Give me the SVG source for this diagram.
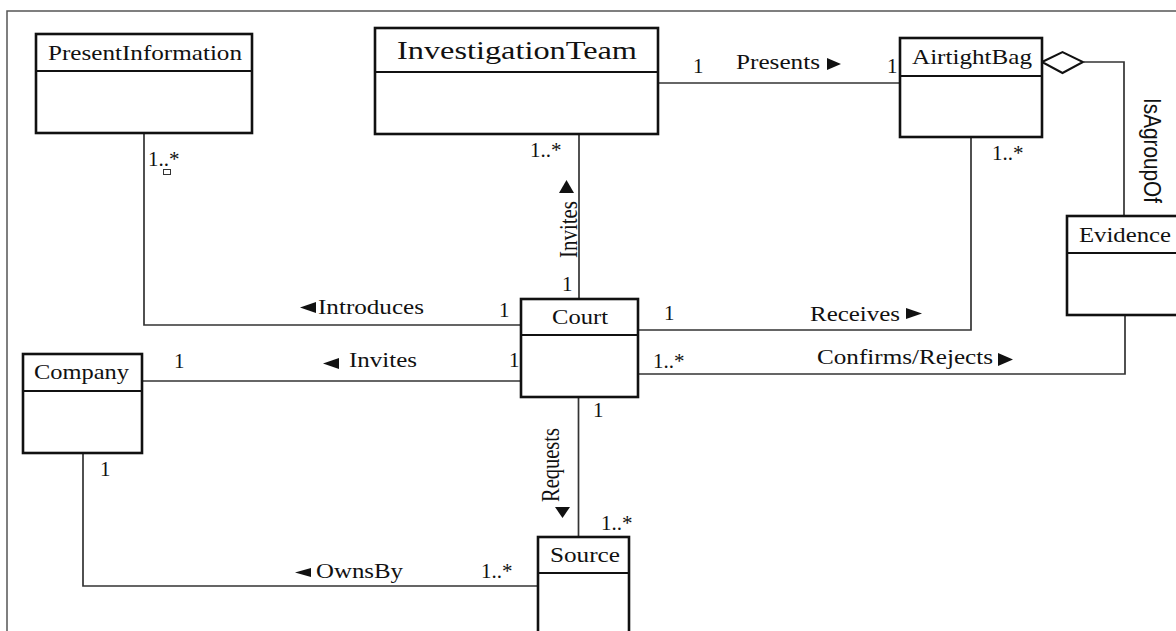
<svg xmlns="http://www.w3.org/2000/svg" width="1176" height="631" viewBox="0 0 1176 631">
  <style>
    .box { fill: #ffffff; stroke: #111111; stroke-width: 2.6; }
    .div { stroke: #111111; stroke-width: 2; }
    .conn { fill: none; stroke: #333333; stroke-width: 1.7; }
    .frame { fill: none; stroke: #555555; stroke-width: 1.5; }
    .name { font-family: "Liberation Serif", "Times New Roman", serif; font-size: 22px; fill: #111111; }
    .lbl { font-family: "Liberation Serif", "Times New Roman", serif; font-size: 21px; fill: #111111; }
    .sans { font-family: "Liberation Sans", Arial, sans-serif; font-size: 20px; fill: #111111; }
    .tri { fill: #111111; }
  </style>

  <rect width="1176" height="631" fill="#ffffff"/>
  <path class="frame" d="M7,631 V11 H1176"/>

  <!-- associations -->
  <g id="connectors">
    <path class="conn" d="M144,133 V325 H521"/>
    <path class="conn" d="M579,134 V299"/>
    <path class="conn" d="M658,83 H900"/>
    <path class="conn" d="M638,330 H971 V137"/>
    <polygon points="1042,62 1062.5,52 1083,62 1062.5,73" fill="#ffffff" stroke="#111111" stroke-width="2"/>
    <path class="conn" d="M1083,62 H1124 V216"/>
    <path class="conn" d="M638,374 H1125 V315"/>
    <path class="conn" d="M142,381 H521"/>
    <path class="conn" d="M578.5,397 V537"/>
    <path class="conn" d="M83,453 V586 H538"/>

    <!-- association names and direction marks -->
    <text class="lbl" x="736" y="69" textLength="84" lengthAdjust="spacingAndGlyphs">Presents</text>
    <polygon class="tri" points="827,58 841,64 827,70"/>
    <text class="lbl" x="810" y="321" textLength="90" lengthAdjust="spacingAndGlyphs">Receives</text>
    <polygon class="tri" points="906,308 922,313.5 906,319"/>
    <text class="lbl" x="817" y="364" textLength="176" lengthAdjust="spacingAndGlyphs">Confirms/Rejects</text>
    <polygon class="tri" points="998,353 1013,359.5 998,366"/>
    <text class="lbl" x="318" y="314" textLength="106" lengthAdjust="spacingAndGlyphs">Introduces</text>
    <polygon class="tri" points="316,302 300,307.5 316,313"/>
    <text class="lbl" x="349" y="367" textLength="68" lengthAdjust="spacingAndGlyphs">Invites</text>
    <polygon class="tri" points="339,358 323,363.5 339,369"/>
    <text class="lbl" x="316" y="578" textLength="87" lengthAdjust="spacingAndGlyphs">OwnsBy</text>
    <polygon class="tri" points="311,568 295,572.5 311,577"/>
    <text class="lbl" transform="translate(577,258) scale(1.2,1) rotate(-90)" x="0" y="0" textLength="57" lengthAdjust="spacingAndGlyphs">Invites</text>
    <polygon class="tri" points="559,193 566.5,180 574,193"/>
    <text class="lbl" transform="translate(559,502) scale(1.2,1) rotate(-90)" x="0" y="0" textLength="74" lengthAdjust="spacingAndGlyphs">Requests</text>
    <polygon class="tri" points="555,507 570,507 562.5,518"/>
    <text class="sans" transform="translate(1144,98) scale(1.15,1) rotate(90)" x="0" y="0" textLength="105" lengthAdjust="spacingAndGlyphs">IsAgroupOf</text>

    <!-- multiplicities -->
    <text class="lbl" x="148" y="166">1..*</text>
    <rect x="163.5" y="169.5" width="7" height="5" fill="none" stroke="#333333" stroke-width="1"/>
    <text class="lbl" x="530" y="157">1..*</text>
    <text class="lbl" x="693" y="73">1</text>
    <text class="lbl" x="887" y="73">1</text>
    <text class="lbl" x="992" y="160">1..*</text>
    <text class="lbl" x="562" y="291">1</text>
    <text class="lbl" x="499" y="317">1</text>
    <text class="lbl" x="664" y="320">1</text>
    <text class="lbl" x="653" y="368">1..*</text>
    <text class="lbl" x="174" y="368">1</text>
    <text class="lbl" x="509" y="367">1</text>
    <text class="lbl" x="593" y="417">1</text>
    <text class="lbl" x="601" y="530">1..*</text>
    <text class="lbl" x="100" y="476">1</text>
    <text class="lbl" x="481" y="578">1..*</text>
  </g>

  <!-- classes -->
  <g id="PresentInformation">
    <rect class="box" x="36" y="34" width="216" height="99"/>
    <line class="div" x1="36" y1="71" x2="252" y2="71"/>
    <text class="name" x="48" y="60" textLength="194" lengthAdjust="spacingAndGlyphs">PresentInformation</text>
  </g>
  <g id="InvestigationTeam">
    <rect class="box" x="375" y="28" width="283" height="106"/>
    <line class="div" x1="375" y1="72" x2="658" y2="72"/>
    <text class="name" x="397" y="59" style="font-size:26px" textLength="240" lengthAdjust="spacingAndGlyphs">InvestigationTeam</text>
  </g>
  <g id="AirtightBag">
    <rect class="box" x="900" y="38" width="142" height="99"/>
    <line class="div" x1="900" y1="76" x2="1042" y2="76"/>
    <text class="name" x="912" y="64" textLength="120" lengthAdjust="spacingAndGlyphs">AirtightBag</text>
  </g>
  <g id="Evidence">
    <rect class="box" x="1067" y="216" width="130" height="99"/>
    <line class="div" x1="1067" y1="253" x2="1197" y2="253"/>
    <text class="name" x="1079" y="242" textLength="92" lengthAdjust="spacingAndGlyphs">Evidence</text>
  </g>
  <g id="Court">
    <rect class="box" x="521" y="299" width="117" height="98"/>
    <line class="div" x1="521" y1="335" x2="638" y2="335"/>
    <text class="name" x="552" y="324" textLength="56" lengthAdjust="spacingAndGlyphs">Court</text>
  </g>
  <g id="Company">
    <rect class="box" x="23" y="354" width="119" height="99"/>
    <line class="div" x1="23" y1="391" x2="142" y2="391"/>
    <text class="name" x="34" y="379" textLength="95" lengthAdjust="spacingAndGlyphs">Company</text>
  </g>
  <g id="Source">
    <rect class="box" x="538" y="537" width="91" height="120"/>
    <line class="div" x1="538" y1="573" x2="629" y2="573"/>
    <text class="name" x="550" y="562" textLength="70" lengthAdjust="spacingAndGlyphs">Source</text>
  </g>
</svg>
